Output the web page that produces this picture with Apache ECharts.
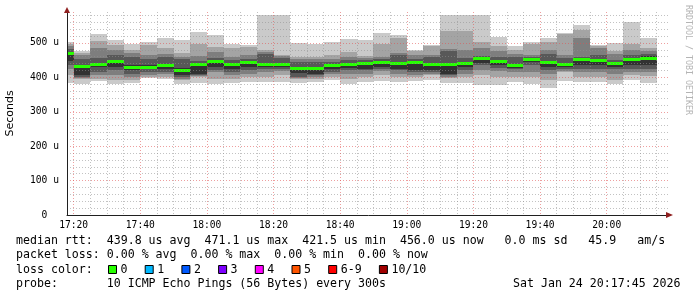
<!DOCTYPE html>
<html><head><meta charset="utf-8">
<script src="https://cdn.jsdelivr.net/npm/echarts@6/dist/echarts.min.js"></script>
<style>html,body{margin:0;padding:0;background:#fff}#c{width:697px;height:297px}</style>
</head><body><div id="c"></div>
<script>
// ---- data ----
const barEnds = ['17:20','17:25','17:30','17:35','17:40','17:45','17:50','17:55','18:00','18:05',
  '18:10','18:15','18:20','18:25','18:30','18:35','18:40','18:45','18:50','18:55',
  '19:00','19:05','19:10','19:15','19:20','19:25','19:30','19:35','19:40','19:45',
  '19:50','19:55','20:00','20:05','20:10','20:15'];
// 10 sorted ping RTTs per 5-minute step, microseconds
const pings = [
  [385,406,423,435,447,472,483,490,496,503],
  [382,396,399,402,406,432,452,464,472,477],
  [389,396,406,416,430,442,456,486,506,526],
  [380,393,406,420,430,450,466,480,495,508],
  [385,391,401,411,420,435,459,471,480,497],
  [399,401,408,416,425,435,454,466,495,502],
  [396,401,411,416,425,440,459,469,485,514],
  [380,391,396,401,406,426,454,459,471,508],
  [385,401,404,406,411,440,447,461,498,532],
  [382,396,416,420,430,450,456,474,488,524],
  [384,396,408,416,425,440,450,459,485,498],
  [387,401,411,420,430,448,454,464,488,493],
  [387,401,416,423,430,442,469,474,480,581],
  [387,408,418,425,430,440,456,461,466,581],
  [383,396,399,402,412,430,445,453,460,501],
  [387,396,401,406,411,430,445,454,459,497],
  [391,401,411,416,425,437,445,454,464,503],
  [382,396,411,420,428,442,450,459,474,511],
  [387,401,411,420,425,446,450,456,462,508],
  [389,408,418,425,430,448,452,459,498,529],
  [387,401,411,420,425,445,466,472,514,522],
  [389,401,408,416,420,448,454,464,477,481],
  [393,406,411,416,420,442,459,466,490,493],
  [385,398,401,406,411,440,476,483,535,581],
  [385,401,411,420,430,443,456,479,535,581],
  [379,406,420,435,443,458,461,485,503,581],
  [377,401,418,427,435,451,459,477,491,517],
  [387,401,416,425,428,439,459,469,481,491],
  [382,401,416,435,445,454,459,464,498,503],
  [369,391,411,420,430,446,469,479,503,514],
  [389,416,418,425,430,441,456,466,527,529],
  [387,401,416,425,435,455,460,514,537,553],
  [387,401,416,425,435,452,464,485,490,495],
  [382,391,411,425,430,443,450,469,476,501],
  [391,406,416,425,435,456,464,479,498,561],
  [384,403,416,425,435,461,469,476,485,514]
];
const medianRtt = [471.1,434,439,448,431,431,437,421.5,438,447,438,445,439,438,428,428,435,440,443,446,
  443,446,439,438,441,456,449,437,452,444,439,453,450,441,454,456];
const stepMinutes = 5;          // 300 s probe step
const timeStart = '17:18', timeEnd = '20:19';
const yMin = 0, yMax = 590;
const xTickLabels = ['17:20','17:40','18:00','18:20','18:40','19:00','19:20','19:40','20:00'];
const yTickValues = [0,100,200,300,400,500];
const yTickText = ['0  ','100 u','200 u','300 u','400 u','500 u'];
const lossLabels = ['0','1','2','3','4','5','6-9','10/10'];
const lossColors = ['#26ff00','#00b8ff','#0059ff','#7e00ff','#ff00ff','#ff5500','#ff0000','#a10000'];
const legendLine1 = 'median rtt:  439.8 us avg  471.1 us max  421.5 us min  456.0 us now   0.0 ms sd   45.9   am/s';
const legendLine2 = 'packet loss: 0.00 % avg  0.00 % max  0.00 % min  0.00 % now';
const legendLine3 = 'loss color:';
const legendLine4 = 'probe:       10 ICMP Echo Pings (56 Bytes) every 300s';
const dateText = 'Sat Jan 24 20:17:45 2026';
const creditText = 'RRDTOOL / TOBI OETIKER';

// ---- styles ----
const smokeColors = ['#cacaca','#a4a4a4','#7e7e7e','#585858','#323232'];
const GRID = 'rgba(144,144,144,0.55)';
const MGRID = 'rgba(224,80,80,0.55)';
const NONE = 'rgba(0,0,0,0)';
const MONO = '"DejaVu Sans Mono", monospace';

const toMin = s => { const p = s.split(':'); return (+p[0]) * 60 + (+p[1]); };
const fmtMin = v => { const h = Math.floor(v / 60), m = v % 60; return h + ':' + (m < 10 ? '0' : '') + m; };

const seriesData = barEnds.map((t, i) => [toMin(t)].concat(pings[i]).concat([medianRtt[i]]));

// x split-line colour cycle: one tick per minute starting at timeStart
const xMin = toMin(timeStart), xMax = toMin(timeEnd);
const xColors = [];
for (let i = 0; i < 20; i++) {
  const v = xMin + i;
  xColors.push(v % 20 === 0 ? MGRID : (v % 5 === 0 ? GRID : NONE));
}
const yColors = [];
for (let i = 0; i < 10; i++) {
  const v = i * 10;
  yColors.push(v % 100 === 0 ? MGRID : (v % 20 === 0 ? GRID : NONE));
}

function renderItem(params, api) {
  const t = api.value(0);
  const cs = params.coordSys;
  const clip = { x: cs.x, y: cs.y, width: cs.width, height: cs.height };
  const children = [];
  for (let k = 0; k < 5; k++) {
    const lo = api.value(1 + k), hi = api.value(10 - k);
    const a = api.coord([t - stepMinutes, hi]), b = api.coord([t, lo]);
    const x0 = Math.round(a[0]), x1 = Math.round(b[0]);
    const y0 = Math.round(a[1]), y1 = Math.round(b[1]);
    const r = echarts.graphic.clipRectByRect({ x: x0, y: y0, width: x1 - x0, height: y1 - y0 }, clip);
    if (r) children.push({ type: 'rect', shape: r, style: { fill: smokeColors[k] } });
  }
  const m = api.value(11);
  const a = api.coord([t - stepMinutes, m]), b = api.coord([t, m]);
  const x0 = Math.round(a[0]), x1 = Math.round(b[0]), ym = Math.round(a[1]);
  const r = echarts.graphic.clipRectByRect({ x: x0, y: ym - 1, width: x1 - x0, height: 3 }, clip);
  if (r) children.push({ type: 'rect', shape: r, style: { fill: lossColors[0] } });
  return { type: 'group', children };
}

// ---- legend graphics ----
const graphics = [];
function txt(x, y, s, font, fill, extra) {
  return Object.assign({ type: 'text', x: x, y: y, z: 10,
    style: { text: s, font: font, fill: fill || '#000', align: 'left', verticalAlign: 'middle',
             textAlign: 'left', textVerticalAlign: 'middle' } }, extra || {});
}
const LF = '11.6px ' + MONO;
graphics.push(txt(16, 241, legendLine1, LF));
graphics.push(txt(16, 255, legendLine2, LF));
graphics.push(txt(16, 269.5, legendLine3, LF));
graphics.push(txt(16, 284, legendLine4, LF));
graphics.push(txt(513, 284, dateText, LF));
let sx = 108;
lossLabels.forEach((lab, i) => {
  graphics.push({ type: 'rect', z: 10, shape: { x: sx + 0.5, y: 265.5, width: 8, height: 8 },
    style: { fill: lossColors[i], stroke: '#000', lineWidth: 1 } });
  graphics.push(txt(sx + 12.5, 269.5, lab, LF));
  sx = sx + 12.5 + 7 * lab.length + 17.2;
});
graphics.push(txt(688, 5, creditText, '8.3px ' + MONO, '#b4b4b4', { rotation: -Math.PI / 2 }));
// axis arrows
graphics.push({ type: 'polygon', z: 10, shape: { points: [[666, 212], [673, 215], [666, 218]] }, style: { fill: '#902020' } });
graphics.push({ type: 'polygon', z: 10, shape: { points: [[64, 13], [67, 7], [70, 13]] }, style: { fill: '#902020' } });

const chart = echarts.init(document.getElementById('c'), null, { renderer: 'canvas' });
chart.setOption({
  animation: false,
  backgroundColor: '#fff',
  grid: { left: 67, top: 12, right: 27, bottom: 82, containLabel: false, outerBoundsMode: 'none' },
  xAxis: {
    type: 'value', min: xMin, max: xMax, interval: 1, z: 4,
    axisLine: { show: true, lineStyle: { color: '#202020', width: 1 } },
    axisTick: { show: false },
    axisLabel: {
      margin: 5, fontFamily: MONO, fontSize: 9.65, color: '#000',
      formatter: v => { const s = fmtMin(v); return xTickLabels.indexOf(s) >= 0 ? s : ''; }
    },
    splitLine: { show: true, showMinLine: true, showMaxLine: false,
      lineStyle: { color: xColors, width: 1, type: [1, 2] } }
  },
  yAxis: {
    type: 'value', min: yMin, max: yMax, interval: 10, z: 3,
    name: 'Seconds', nameLocation: 'middle', nameRotate: 90, nameGap: 51,
    nameTextStyle: { fontFamily: '"DejaVu Sans", sans-serif', fontSize: 11, color: '#000' },
    axisLine: { show: true, lineStyle: { color: '#202020', width: 1 } },
    axisTick: { show: false },
    axisLabel: {
      margin: 8, fontFamily: MONO, fontSize: 9.65, color: '#000',
      formatter: v => { const i = yTickValues.indexOf(v); return i >= 0 ? yTickText[i] : ''; }
    },
    splitLine: { show: true, showMinLine: true, showMaxLine: false,
      lineStyle: { color: yColors, width: 1, type: [1, 2] } }
  },
  graphic: graphics,
  series: [{
    type: 'custom', renderItem: renderItem, data: seriesData, z: 2,
    encode: { x: 0, y: [1, 10] }, clip: true, silent: true
  }]
});
</script></body></html>
